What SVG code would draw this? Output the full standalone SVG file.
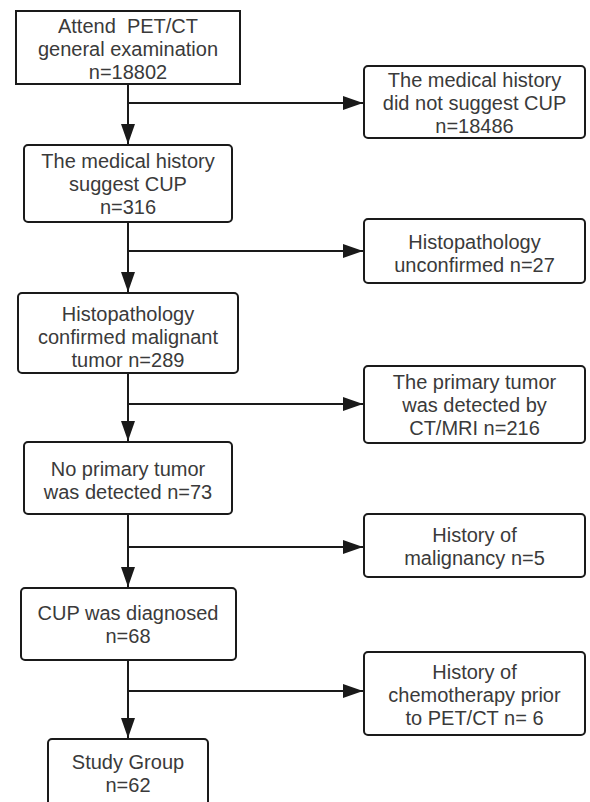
<svg xmlns="http://www.w3.org/2000/svg" width="590" height="802" viewBox="0 0 590 802">
<style>
.box{fill:#fff;stroke:#1a1a1a;stroke-width:2}
.t{font-family:"Liberation Sans",Arial,sans-serif;font-size:20px;fill:#3a3a3a;text-anchor:middle}
.c{fill:none;stroke:#1a1a1a;stroke-width:2}
</style>
<defs>
<marker id="ah" markerUnits="userSpaceOnUse" markerWidth="22" markerHeight="16" refX="20" refY="7" orient="auto">
<path d="M0,0 L20,7 L0,14 Z" fill="#1a1a1a"/>
</marker>
</defs>
<rect width="590" height="802" fill="#fff"/>
<g id="connectors">
<path class="c" d="M128,84 V144" marker-end="url(#ah)"/>
<path class="c" d="M128,103 H363" marker-end="url(#ah)"/>
<path class="c" d="M128,222 V292" marker-end="url(#ah)"/>
<path class="c" d="M128,251 H363" marker-end="url(#ah)"/>
<path class="c" d="M128,373 V441" marker-end="url(#ah)"/>
<path class="c" d="M128,404 H363" marker-end="url(#ah)"/>
<path class="c" d="M128,514 V587" marker-end="url(#ah)"/>
<path class="c" d="M128,547 H363" marker-end="url(#ah)"/>
<path class="c" d="M128,660 V738" marker-end="url(#ah)"/>
<path class="c" d="M128,691 H363" marker-end="url(#ah)"/>
</g>
<g id="n1">
<rect class="box" x="16" y="11" width="224" height="73"/>
<text class="t" x="128" y="33" xml:space="preserve">Attend  PET/CT</text>
<text class="t" x="128" y="56">general examination</text>
<text class="t" x="128" y="79">n=18802</text>
</g>
<g id="n2">
<rect class="box" x="364" y="66" width="221" height="72" rx="4"/>
<text class="t" x="474.5" y="87">The medical history</text>
<text class="t" x="474.5" y="110">did not suggest CUP</text>
<text class="t" x="474.5" y="133">n=18486</text>
</g>
<g id="n3">
<rect class="box" x="24" y="145" width="208" height="77" rx="4"/>
<text class="t" x="128" y="168">The medical history</text>
<text class="t" x="128" y="191">suggest CUP</text>
<text class="t" x="128" y="214">n=316</text>
</g>
<g id="n4">
<rect class="box" x="364" y="219" width="221" height="64" rx="4"/>
<text class="t" x="474.5" y="249">Histopathology</text>
<text class="t" x="474.5" y="272">unconfirmed n=27</text>
</g>
<g id="n5">
<rect class="box" x="18" y="293" width="220" height="80" rx="4"/>
<text class="t" x="128" y="321">Histopathology</text>
<text class="t" x="128" y="344">confirmed malignant</text>
<text class="t" x="128" y="367">tumor n=289</text>
</g>
<g id="n6">
<rect class="box" x="364" y="366" width="221" height="77" rx="4"/>
<text class="t" x="474.5" y="389">The primary tumor</text>
<text class="t" x="474.5" y="412">was detected by</text>
<text class="t" x="474.5" y="435">CT/MRI n=216</text>
</g>
<g id="n7">
<rect class="box" x="24" y="442" width="208" height="72" rx="4"/>
<text class="t" x="128" y="476">No primary tumor</text>
<text class="t" x="128" y="499">was detected n=73</text>
</g>
<g id="n8">
<rect class="box" x="364" y="514" width="221" height="63" rx="4"/>
<text class="t" x="474.5" y="542">History of</text>
<text class="t" x="474.5" y="565">malignancy n=5</text>
</g>
<g id="n9">
<rect class="box" x="21" y="588" width="215" height="72" rx="4"/>
<text class="t" x="128" y="620">CUP was diagnosed</text>
<text class="t" x="128" y="643">n=68</text>
</g>
<g id="n10">
<rect class="box" x="364" y="652" width="221" height="83" rx="4"/>
<text class="t" x="474.5" y="679">History of</text>
<text class="t" x="474.5" y="702">chemotherapy prior</text>
<text class="t" x="474.5" y="725">to PET/CT n= 6</text>
</g>
<g id="n11">
<rect class="box" x="48" y="739" width="160" height="80" rx="4"/>
<text class="t" x="128" y="769">Study Group</text>
<text class="t" x="128" y="792">n=62</text>
</g>
</svg>
